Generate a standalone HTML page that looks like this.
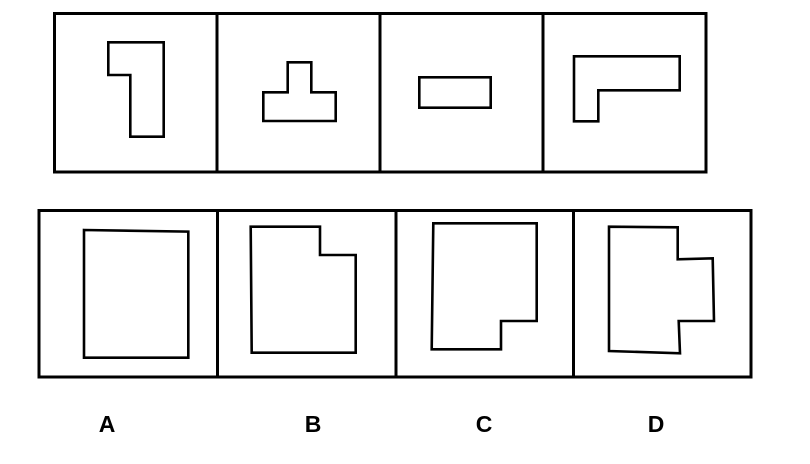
<!DOCTYPE html>
<html><head><meta charset="utf-8"><style>html,body{margin:0;padding:0;background:#fff;}svg{display:block}</style></head>
<body>
<svg width="810" height="464" xmlns="http://www.w3.org/2000/svg">
<rect width="810" height="464" fill="#fff"/>
<g fill="none" stroke="#000" stroke-width="3">
<rect x="54.5" y="13.5" width="651.5" height="158.5"/>
<line x1="217" y1="13.5" x2="217" y2="172"/>
<line x1="380" y1="13.5" x2="380" y2="172"/>
<line x1="543" y1="13.5" x2="543" y2="172"/>
<rect x="39" y="210.5" width="712" height="166.5"/>
<line x1="217.5" y1="210.5" x2="217.5" y2="377"/>
<line x1="396" y1="210.5" x2="396" y2="377"/>
<line x1="573.5" y1="210.5" x2="573.5" y2="377"/>
</g>
<g fill="none" stroke="#000" stroke-width="2.6" stroke-linejoin="miter">
<polygon points="108.3,42.3 163.7,42.3 163.7,136.7 130.3,136.7 130.3,75 108.3,75"/>
<polygon points="263.3,92.3 287.7,92.3 287.7,62.3 311.3,62.3 311.3,92.3 335.7,92.3 335.7,121 263.3,121"/>
<rect x="419.3" y="77.3" width="71.4" height="30.4"/>
<polygon points="574,56.3 679.7,56.3 679.7,90.3 598.3,90.3 598.3,121.3 574,121.3"/>
<polygon points="84,230 188.3,231.6 188.3,357.7 84,357.7"/>
<polygon points="250.7,226.7 320,226.7 320,255 355.7,255 355.7,352.7 251.7,352.7"/>
<polygon points="433.3,223.3 536.7,223.3 536.7,321 501,321 501,349.3 431.7,349.3"/>
<polygon points="609,226.7 677.7,227.3 677.7,259.3 712.7,258.3 714,321 678.7,321 680,353.3 609,351"/>
</g>
<g font-family="Liberation Sans, Arial, sans-serif" font-weight="bold" font-size="23" fill="#000" text-anchor="middle">
<text x="107" y="432">A</text>
<text x="313" y="432">B</text>
<text x="484" y="432">C</text>
<text x="656" y="432">D</text>
</g>
</svg>
</body></html>
